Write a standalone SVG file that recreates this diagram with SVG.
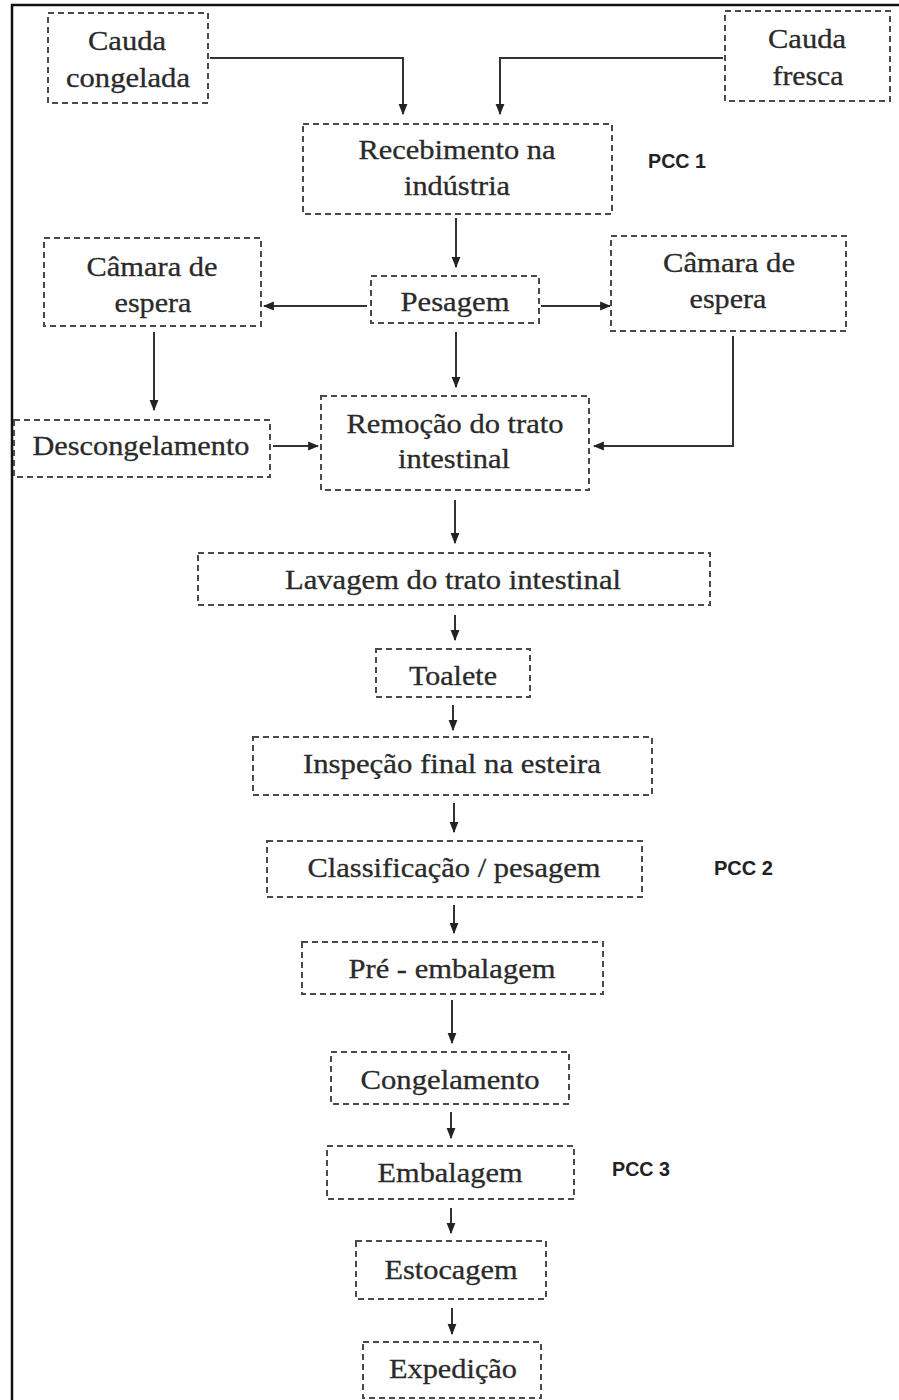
<svg xmlns="http://www.w3.org/2000/svg" width="899" height="1400" viewBox="0 0 899 1400">
<style>
.bx{fill:none;stroke:#4a4a4a;stroke-width:2;stroke-dasharray:6 4}
.t{font-family:"Liberation Serif","Times New Roman",serif;font-size:28px;fill:#2a2a2a;stroke:#2a2a2a;stroke-width:0.3;text-anchor:middle}
.p{font-family:"Liberation Sans",Arial,sans-serif;font-weight:bold;font-size:21px;fill:#222}
.c{fill:none;stroke:#333;stroke-width:2}
</style>
<defs>
<marker id="ah" markerUnits="userSpaceOnUse" markerWidth="11" markerHeight="11" viewBox="0 0 10 10" refX="9" refY="5" orient="auto">
<path d="M0,1 L10,5 L0,9 Z" fill="#222"/>
</marker>
</defs>
<rect width="899" height="1400" fill="#fff"/>
<g id="frame"><path d="M12,1400 V5 H899" fill="none" stroke="#111" stroke-width="2.5"/></g>

<g id="n-cauda-congelada"><rect class="bx" x="48" y="13" width="160" height="90"/><text class="t" x="127" y="50" textLength="78" lengthAdjust="spacingAndGlyphs">Cauda</text><text class="t" x="128" y="87" textLength="124" lengthAdjust="spacingAndGlyphs">congelada</text></g>
<g id="n-cauda-fresca"><rect class="bx" x="725" y="11" width="165" height="90"/><text class="t" x="807" y="48" textLength="78" lengthAdjust="spacingAndGlyphs">Cauda</text><text class="t" x="808" y="85" textLength="71" lengthAdjust="spacingAndGlyphs">fresca</text></g>
<g id="n-recebimento"><rect class="bx" x="303" y="124" width="309" height="90"/><text class="t" x="457" y="159" textLength="197" lengthAdjust="spacingAndGlyphs">Recebimento na</text><text class="t" x="457" y="195" textLength="106" lengthAdjust="spacingAndGlyphs">indústria</text></g>
<g id="n-pcc1"><text class="p" x="648" y="168" textLength="58" lengthAdjust="spacingAndGlyphs">PCC 1</text></g>
<g id="n-camara-esq"><rect class="bx" x="44" y="238" width="217" height="88"/><text class="t" x="152" y="276" textLength="131" lengthAdjust="spacingAndGlyphs">Câmara de</text><text class="t" x="153" y="312" textLength="77" lengthAdjust="spacingAndGlyphs">espera</text></g>
<g id="n-pesagem"><rect class="bx" x="371" y="276" width="168" height="47"/><text class="t" x="455" y="311" textLength="109" lengthAdjust="spacingAndGlyphs">Pesagem</text></g>
<g id="n-camara-dir"><rect class="bx" x="611" y="236" width="235" height="95"/><text class="t" x="729" y="272" textLength="132" lengthAdjust="spacingAndGlyphs">Câmara de</text><text class="t" x="728" y="308" textLength="77" lengthAdjust="spacingAndGlyphs">espera</text></g>
<g id="n-descongelamento"><rect class="bx" x="14" y="420" width="256" height="57"/><text class="t" x="141" y="455" textLength="217" lengthAdjust="spacingAndGlyphs">Descongelamento</text></g>
<g id="n-remocao"><rect class="bx" x="321" y="396" width="268" height="94"/><text class="t" x="455" y="433" textLength="217" lengthAdjust="spacingAndGlyphs">Remoção do trato</text><text class="t" x="454" y="468" textLength="112" lengthAdjust="spacingAndGlyphs">intestinal</text></g>
<g id="n-lavagem"><rect class="bx" x="198" y="553" width="512" height="52"/><text class="t" x="453" y="589" textLength="336" lengthAdjust="spacingAndGlyphs">Lavagem do trato intestinal</text></g>
<g id="n-toalete"><rect class="bx" x="376" y="649" width="154" height="48"/><text class="t" x="453" y="685" textLength="88" lengthAdjust="spacingAndGlyphs">Toalete</text></g>
<g id="n-inspecao"><rect class="bx" x="253" y="737" width="399" height="58"/><text class="t" x="452" y="773" textLength="298" lengthAdjust="spacingAndGlyphs">Inspeção final na esteira</text></g>
<g id="n-classificacao"><rect class="bx" x="267" y="841" width="375" height="56"/><text class="t" x="454" y="877" textLength="293" lengthAdjust="spacingAndGlyphs">Classificação / pesagem</text></g>
<g id="n-pcc2"><text class="p" x="714" y="875" textLength="59" lengthAdjust="spacingAndGlyphs">PCC 2</text></g>
<g id="n-pre-embalagem"><rect class="bx" x="302" y="942" width="301" height="52"/><text class="t" x="452" y="978" textLength="207" lengthAdjust="spacingAndGlyphs">Pré - embalagem</text></g>
<g id="n-congelamento"><rect class="bx" x="331" y="1052" width="238" height="52"/><text class="t" x="450" y="1089" textLength="179" lengthAdjust="spacingAndGlyphs">Congelamento</text></g>
<g id="n-embalagem"><rect class="bx" x="327" y="1146" width="247" height="53"/><text class="t" x="450" y="1182" textLength="145" lengthAdjust="spacingAndGlyphs">Embalagem</text></g>
<g id="n-pcc3"><text class="p" x="612" y="1176" textLength="58" lengthAdjust="spacingAndGlyphs">PCC 3</text></g>
<g id="n-estocagem"><rect class="bx" x="356" y="1241" width="190" height="58"/><text class="t" x="451" y="1279" textLength="133" lengthAdjust="spacingAndGlyphs">Estocagem</text></g>
<g id="n-expedicao"><rect class="bx" x="363" y="1342" width="178" height="56"/><text class="t" x="453" y="1378" textLength="128" lengthAdjust="spacingAndGlyphs">Expedição</text></g>

<g id="connectors">
<path class="c" d="M210,58 H403 V114" marker-end="url(#ah)"/>
<path class="c" d="M723,58 H500 V114" marker-end="url(#ah)"/>
<path class="c" d="M456,218 V267" marker-end="url(#ah)"/>
<path class="c" d="M367,306 H264" marker-end="url(#ah)"/>
<path class="c" d="M541,306 H610" marker-end="url(#ah)"/>
<path class="c" d="M456,332 V387" marker-end="url(#ah)"/>
<path class="c" d="M154,332 V410" marker-end="url(#ah)"/>
<path class="c" d="M273,446 H318" marker-end="url(#ah)"/>
<path class="c" d="M733,336 V446 H594" marker-end="url(#ah)"/>
<path class="c" d="M455,500 V543" marker-end="url(#ah)"/>
<path class="c" d="M455,615 V640" marker-end="url(#ah)"/>
<path class="c" d="M453,705 V730" marker-end="url(#ah)"/>
<path class="c" d="M454,803 V832" marker-end="url(#ah)"/>
<path class="c" d="M454,905 V933" marker-end="url(#ah)"/>
<path class="c" d="M452,1000 V1043" marker-end="url(#ah)"/>
<path class="c" d="M451,1112 V1138" marker-end="url(#ah)"/>
<path class="c" d="M451,1208 V1233" marker-end="url(#ah)"/>
<path class="c" d="M452,1308 V1334" marker-end="url(#ah)"/>
</g>
</svg>
